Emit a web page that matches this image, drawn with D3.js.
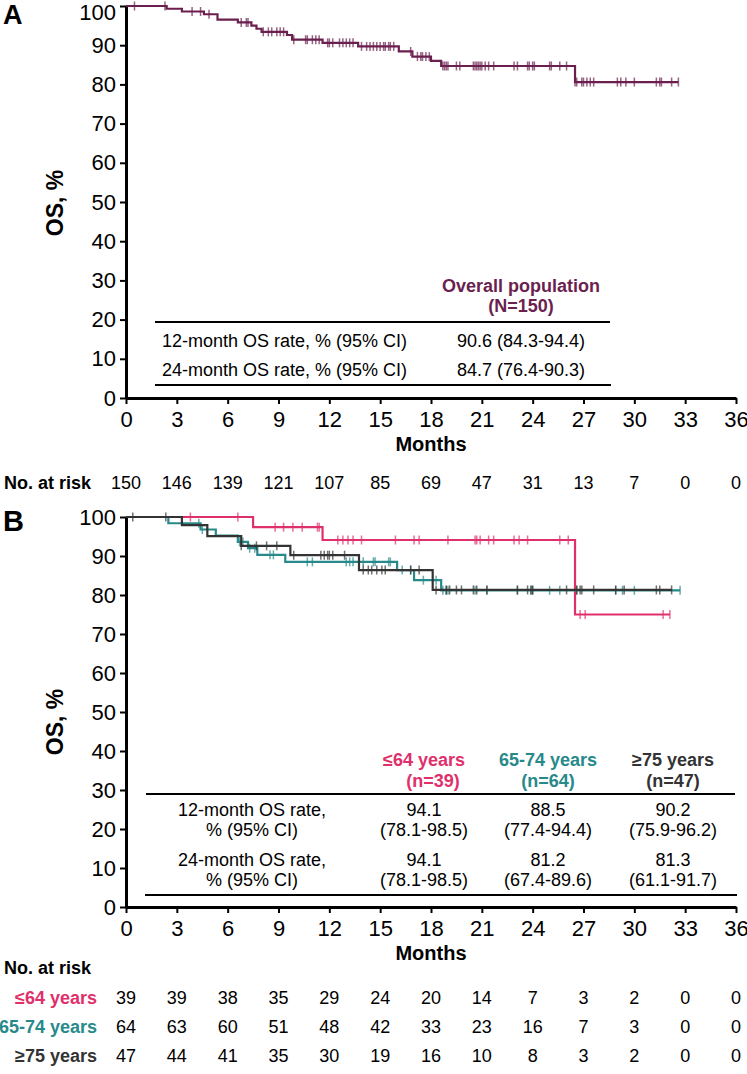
<!DOCTYPE html>
<html>
<head>
<meta charset="utf-8">
<script src="https://cdn.jsdelivr.net/npm/d3@7"></script>
<style>
  body { margin: 0; background: #fff; }
  svg { display: block; font-family: "Liberation Sans", Arial, sans-serif; }
</style>
</head>
<body>
<script>
// tick labels
var monthTicks = [0,3,6,9,12,15,18,21,24,27,30,33,36];
var osTicks = [0,10,20,30,40,50,60,70,80,90,100];

// panel A: overall population
var allEventT = [2.4,3.3,4.6,5.4,6.6,7.4,7.7,8.0,9.5,9.8,11.6,13.7,16.1,16.9,18.0,18.6,26.5];
var allEventS = [99.3,98.6,97.9,96.5,95.8,95.0,94.2,93.4,92.6,91.4,90.6,89.7,88.4,87.1,86.0,84.7,80.6];
var allCensor = [0.5,2.3,3.9,4.4,4.9,6.8,7.1,7.2,8.1,8.4,8.6,8.9,9.1,9.3,9.9,10.6,10.7,11.0,11.2,11.4,
  11.9,12.0,12.2,12.6,12.8,13.0,13.2,13.4,13.9,14.2,14.4,14.6,14.8,15.0,15.2,15.3,15.5,15.6,15.8,
  16.8,17.2,17.4,17.5,17.7,17.9,18.7,18.8,18.9,19.0,19.5,19.7,20.5,20.6,20.7,20.8,20.9,21.0,21.2,21.4,
  21.7,22.9,23.1,23.7,23.8,24.0,24.1,25.0,25.1,25.6,26.0,26.5,26.6,26.9,27.0,27.2,27.4,27.6,29.0,29.2,
  29.5,30.0,31.3,31.5,31.6,32.2,32.6];
var riskAll = [150,146,139,121,107,85,69,47,31,13,7,0,0];

// panel B: by age
var groupNames = ["\u226464 years","65-74 years","\u226575 years"];
var groupN = ["(n=39)","(n=64)","(n=47)"];
var groupColors = ["#e0306c","#27898a","#333333"];

var y64EventT = [7.5,11.6,26.5];
var y64EventS = [97.4,94.1,75.0];
var y64Censor = [3.8,6.6,8.8,9.3,9.85,10.4,11.3,11.4,12.5,12.8,13.1,13.4,13.9,15.9,17.0,17.3,19.0,20.6,
  20.7,20.9,21.4,21.7,22.9,23.2,23.7,25.6,26.1,26.8,27.1,31.7,32.1];

var y6574EventT = [2.5,4.4,5.3,6.6,7.2,7.75,9.4,16.0,17.0,18.6];
var y6574EventS = [98.4,96.8,95.2,93.6,92.0,90.3,88.5,86.4,83.8,81.2];
var y6574Censor = [4.3,4.5,6.7,6.9,7.3,7.6,8.5,8.7,10.7,11.0,13.0,13.2,13.4,14.0,14.6,14.7,15.5,15.6,
  16.3,16.8,17.55,18.3,18.7,18.9,19.0,20.6,21.3,23.1,23.9,24.0,25.0,25.6,26.6,28.9,29.3,30.0,32.7];

var y75EventT = [3.3,4.8,6.8,9.7,13.75,18.1];
var y75EventS = [97.9,95.1,92.6,90.2,86.4,81.3];
var y75Censor = [0.4,2.35,6.8,7.7,8.3,8.9,9.9,11.5,11.7,11.9,12.0,12.2,12.9,14.0,14.3,14.5,14.8,15.1,
  15.3,16.8,17.3,18.3,18.9,19.1,19.5,19.8,20.5,20.7,21.3,23.1,23.7,23.9,24.0,26.0,26.6,26.8,26.9,27.6,
  28.9,29.4,31.3,31.5,32.2];

var risk64 = [39,39,38,35,29,24,20,14,7,3,2,0,0];
var risk6574 = [64,63,60,51,48,42,33,23,16,7,3,0,0];
var risk75 = [47,44,41,35,30,19,16,10,8,3,2,0,0];

// summary tables
var rowLabelsA = ["12-month OS rate, % (95% CI)","24-month OS rate, % (95% CI)"];
var valuesA = ["90.6 (84.3-94.4)","84.7 (76.4-90.3)"];
var rowLabelsB = [["12-month OS rate,","% (95% CI)"],["24-month OS rate,","% (95% CI)"]];
var valuesB = [
  [["94.1","(78.1-98.5)"],["94.1","(78.1-98.5)"]],
  [["88.5","(77.4-94.4)"],["81.2","(67.4-89.6)"]],
  [["90.2","(75.9-96.2)"],["81.3","(61.1-91.7)"]]
];

var purple = "#6b1f4f";

var svg = d3.select("body").append("svg").attr("width",747).attr("height",1074);

var x = d3.scaleLinear().domain([0,36]).range([126,736]);
var yA = d3.scaleLinear().domain([0,100]).range([398,6]);
var yB = d3.scaleLinear().domain([0,100]).range([907,517]);

function survAt(ts, ss, t) {
  var s = 100;
  for (var i = 0; i < ts.length; i++) { if (ts[i] <= t) s = ss[i]; }
  return s;
}

function drawAxes(y, labelY) {
  var g = svg.append("g");
  var ya = g.append("g").attr("transform","translate(126,0)")
    .call(d3.axisLeft(y).tickValues(osTicks).tickSize(6).tickSizeOuter(0).tickPadding(4));
  var xa = g.append("g").attr("transform","translate(0," + y(0) + ")")
    .call(d3.axisBottom(x).tickValues(monthTicks).tickSize(6).tickSizeOuter(0).tickPadding(7));
  [ya, xa].forEach(function(a){
    a.attr("font-size",null).attr("font-family",null);
    a.select(".domain").attr("stroke","#000").attr("stroke-width",3);
    a.selectAll(".tick line").attr("stroke","#000").attr("stroke-width",2);
    a.selectAll(".tick text").style("font-size","22px").attr("fill","#000");
  });
  // keep the top label inside the page
  ya.selectAll(".tick text").filter(function(d){ return y(d) < 12; }).attr("y", 6);
  g.append("text").attr("transform","translate(57," + labelY + ") rotate(-90)")
    .attr("text-anchor","middle").attr("dominant-baseline","middle")
    .attr("font-weight","bold").style("font-size","23px").text("OS, %");
  g.append("text").attr("x",x(18)).attr("y",y(0)+48)
    .attr("text-anchor","middle").attr("dominant-baseline","middle")
    .attr("font-weight","bold").style("font-size","20px").text("Months");
}

function drawCurve(y, ts, ss, censor, color) {
  var last = d3.max(censor);
  var pts = [[0,100]];
  ts.forEach(function(t,i){ pts.push([t, ss[i]]); });
  pts.push([last, survAt(ts, ss, last)]);
  var line = d3.line().x(function(d){return x(d[0]);}).y(function(d){return y(d[1]);})
    .curve(d3.curveStepAfter);
  svg.append("path").attr("d", line(pts)).attr("fill","none")
    .attr("stroke",color).attr("stroke-width",2.2);
  svg.append("g").selectAll("line").data(censor).enter().append("line")
    .attr("x1",function(d){return x(d);}).attr("x2",function(d){return x(d);})
    .attr("y1",function(d){return y(survAt(ts,ss,d))-4.5;})
    .attr("y2",function(d){return y(survAt(ts,ss,d))+4.5;})
    .attr("stroke",color).attr("stroke-opacity",0.7).attr("stroke-width",1.5);
}

// panel letters
svg.append("text").attr("x",3).attr("y",24).style("font-size","27px").attr("font-weight","bold").text("A");
svg.append("text").attr("x",3).attr("y",531).style("font-size","29px").attr("font-weight","bold").text("B");

// ---- panel A
drawAxes(yA, 203);
drawCurve(yA, allEventT, allEventS, allCensor, purple);

// table A
svg.append("text").attr("x",521).attr("y",287).attr("text-anchor","middle").attr("dominant-baseline","middle")
  .attr("font-weight","bold").style("font-size","18px").attr("fill",purple).text("Overall population");
svg.append("text").attr("x",521).attr("y",307).attr("text-anchor","middle").attr("dominant-baseline","middle")
  .attr("font-weight","bold").style("font-size","18px").attr("fill",purple).text("(N=150)");
svg.append("line").attr("x1",155).attr("x2",610).attr("y1",322).attr("y2",322).attr("stroke","#000").attr("stroke-width",2);
svg.append("line").attr("x1",155).attr("x2",611).attr("y1",385).attr("y2",385).attr("stroke","#000").attr("stroke-width",2);
rowLabelsA.forEach(function(r,i){
  svg.append("text").attr("x",162).attr("y",342+i*29).attr("dominant-baseline","middle")
    .style("font-size","18px").text(r);
  svg.append("text").attr("x",521).attr("y",342+i*29).attr("text-anchor","middle").attr("dominant-baseline","middle")
    .style("font-size","18px").text(valuesA[i]);
});

// risk table A
svg.append("text").attr("x",4).attr("y",484).attr("dominant-baseline","middle")
  .attr("font-weight","bold").style("font-size","18px").text("No. at risk");
svg.append("g").selectAll("text").data(riskAll).enter().append("text")
  .attr("x",function(d,i){return x(monthTicks[i]);}).attr("y",484)
  .attr("text-anchor","middle").attr("dominant-baseline","middle").style("font-size","18px")
  .text(function(d){return d;});

// ---- panel B
drawAxes(yB, 722);
drawCurve(yB, y64EventT, y64EventS, y64Censor, groupColors[0]);
drawCurve(yB, y6574EventT, y6574EventS, y6574Censor, groupColors[1]);
drawCurve(yB, y75EventT, y75EventS, y75Censor, groupColors[2]);

// table B
var colX = [424, 548, 673];
groupNames.forEach(function(n,i){
  svg.append("text").attr("x",colX[i]).attr("y",761).attr("text-anchor","middle").attr("dominant-baseline","middle")
    .attr("font-weight","bold").style("font-size","18px").attr("fill",groupColors[i]).text(n);
  svg.append("text").attr("x",colX[i] + (i==0?9:0)).attr("y",782).attr("text-anchor","middle").attr("dominant-baseline","middle")
    .attr("font-weight","bold").style("font-size","18px").attr("fill",groupColors[i]).text(groupN[i]);
});
svg.append("line").attr("x1",146).attr("x2",735).attr("y1",794).attr("y2",794).attr("stroke","#000").attr("stroke-width",2);
svg.append("line").attr("x1",145).attr("x2",737).attr("y1",895).attr("y2",895).attr("stroke","#000").attr("stroke-width",2);
rowLabelsB.forEach(function(r,i){
  r.forEach(function(line,j){
    svg.append("text").attr("x",252).attr("y",811+i*50+j*20).attr("text-anchor","middle").attr("dominant-baseline","middle")
      .style("font-size","18px").text(line);
  });
});
valuesB.forEach(function(col,c){
  col.forEach(function(cell,i){
    cell.forEach(function(line,j){
      svg.append("text").attr("x",colX[c]).attr("y",811+i*50+j*20).attr("text-anchor","middle").attr("dominant-baseline","middle")
        .style("font-size","18px").text(line);
    });
  });
});

// risk table B
svg.append("text").attr("x",4).attr("y",969).attr("dominant-baseline","middle")
  .attr("font-weight","bold").style("font-size","18px").text("No. at risk");
[risk64, risk6574, risk75].forEach(function(row,r){
  var yy = 999 + r*29;
  svg.append("text").attr("x",97).attr("y",yy).attr("text-anchor","end").attr("dominant-baseline","middle")
    .attr("font-weight","bold").style("font-size","18px").attr("fill",groupColors[r]).text(groupNames[r]);
  svg.append("g").selectAll("text").data(row).enter().append("text")
    .attr("x",function(d,i){return x(monthTicks[i]);}).attr("y",yy)
    .attr("text-anchor","middle").attr("dominant-baseline","middle").style("font-size","18px")
    .text(function(d){return d;});
});
</script>
</body>
</html>
